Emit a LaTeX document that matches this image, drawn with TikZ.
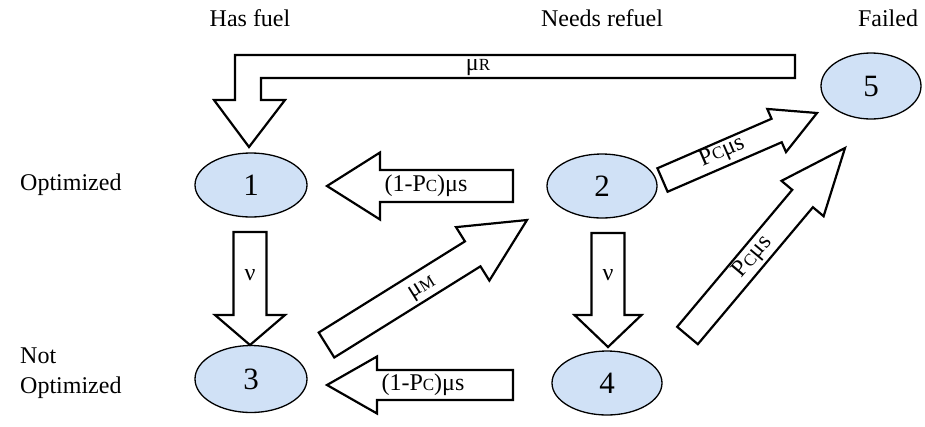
\documentclass[tikz,border=0pt]{standalone}
\usepackage{fontspec}
\setmainfont{Liberation Serif}
\usetikzlibrary{calc,shapes.geometric}

\definecolor{statefill}{RGB}{208,225,246}

% reduced capitals used in subscripts such as Pc, muR, muM
\newcommand\lowcap[1]{{\fontsize{17}{19}\selectfont #1}}

% block arrow: #1 tail, #2 tip, #3 shaft half width, #4 head half width, #5 head length
\newcommand\fatarrow[5]{%
  \coordinate (fa-c) at ($(#2)!#5!(#1)$);
  \draw[blockarrow]
    ($(#1)!#3!90:(#2)$) -- ($(fa-c)!#3!90:(#2)$) -- ($(fa-c)!#4!90:(#2)$)
    -- (#2)
    -- ($(fa-c)!#4!-90:(#2)$) -- ($(fa-c)!#3!-90:(#2)$) -- ($(#1)!#3!-90:(#2)$)
    -- cycle;}

\tikzset{
  state/.style={ellipse, draw=black, line width=1.3pt, fill=statefill,
    inner sep=0pt, font=\fontsize{31}{33}\selectfont},
  blockarrow/.style={draw=black, fill=white, line width=2.2pt, line join=miter},
  heading/.style={font=\fontsize{24}{30}\selectfont, inner sep=0pt},
  ratelabel/.style={font=\fontsize{24}{26}\selectfont, inner sep=0pt},
}

\begin{document}
\begin{tikzpicture}[x=1pt, y=-1pt]
  \useasboundingbox (0,0) rectangle (925,426);

  % column and row headings
  \node[heading] (hfuel) at (250,18) {Has fuel};
  \node[heading] (hrefuel) at (602,18) {Needs refuel};
  \node[heading] (hfailed) at (888,18) {Failed};
  \node[heading, anchor=west] (hopt) at (20,185) {Optimized};
  \node[heading, anchor=west, align=left] (hnotopt) at (20,373) {Not\\Optimized};

  % states
  \node[state, minimum width=112pt, minimum height=64pt] (n1) at (251,185) {1};
  \node[state, minimum width=110pt, minimum height=64pt] (n2) at (602,186) {2};
  \node[state, minimum width=112pt, minimum height=67pt] (n3) at (251,379) {3};
  \node[state, minimum width=110pt, minimum height=64pt] (n4) at (607,383) {4};
  \node[state, minimum width=100pt, minimum height=66pt] (n5) at (871,86) {5};

  % repair transition 5 -> 1 (L-shaped block arrow)
  \coordinate (r-end) at (795,55);
  \coordinate (r-tip) at (249,147);
  \draw[blockarrow] (r-end) -- (235,55) -- (235,100) -- (214,100) -- (r-tip)
    -- (285,100) -- (261,100) -- (261,78) -- (795,78) -- cycle;
  \node[ratelabel] (lr) at (478,67) {μ\lowcap{R}};

  % end points of the straight transitions
  \coordinate (t21) at (513,186);  \coordinate (h21) at (327,186);
  \coordinate (t43) at (513,385);  \coordinate (h43) at (327,385);
  \coordinate (t13) at (250,232);  \coordinate (h13) at (250,345);
  \coordinate (t24) at (608,233);  \coordinate (h24) at (608,347);
  \coordinate (t32) at (326.5,345); \coordinate (h32) at (527,220);
  \coordinate (t25) at (662.5,180); \coordinate (h25) at (817,113);
  \coordinate (t45) at (687.5,335.5); \coordinate (h45) at (845,148);

  \fatarrow{t21}{h21}{16pt}{33.5pt}{53pt}
  \fatarrow{t43}{h43}{15pt}{28.5pt}{50pt}
  \fatarrow{t13}{h13}{16.5pt}{35pt}{30pt}
  \fatarrow{t24}{h24}{16.5pt}{33.5pt}{32pt}
  \fatarrow{t32}{h32}{14.7pt}{31.5pt}{64pt}
  \fatarrow{t25}{h25}{12.8pt}{23.5pt}{44pt}
  \fatarrow{t45}{h45}{13.5pt}{27.5pt}{66pt}

  % rate labels
  \node[ratelabel] (l21) at (426,186) {(1-P\lowcap{C})μs};
  \node[ratelabel] (l43) at (423,385) {(1-P\lowcap{C})μs};
  \node[ratelabel] (l13) at (250,275) {ν};
  \node[ratelabel] (l24) at (608,275) {ν};
  \node[ratelabel, rotate=32] (l32) at (423,289) {μ\lowcap{M}};
  \node[ratelabel, rotate=23.4] (l25) at (722,152) {P\lowcap{C}μs};
  \node[ratelabel, rotate=50] (l45) at (753,257) {P\lowcap{C}μs};
\end{tikzpicture}
\end{document}
